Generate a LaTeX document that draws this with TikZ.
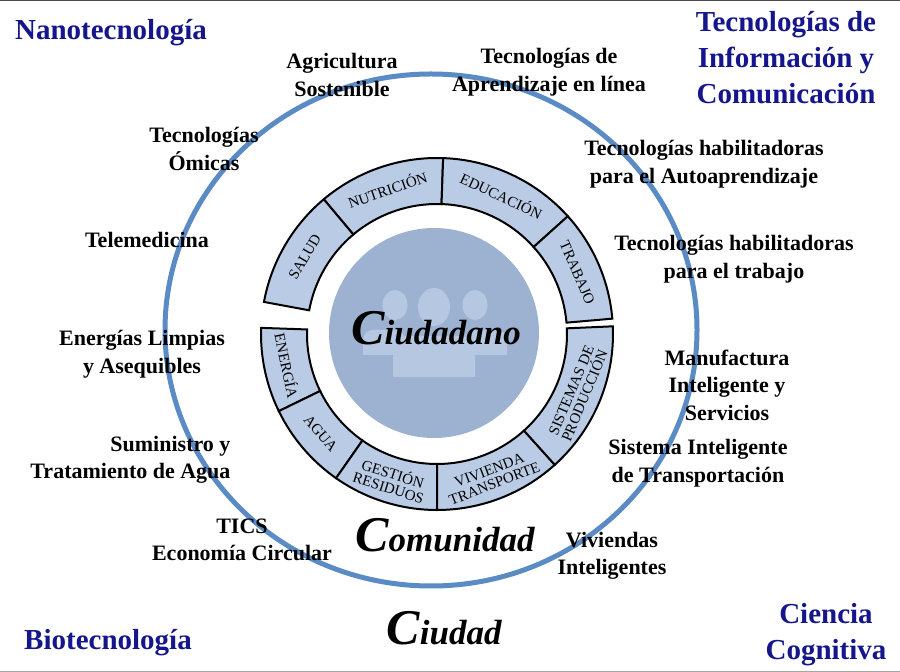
\documentclass[tikz,border=0pt]{standalone}
\usepackage{fontspec}
\setmainfont{Liberation Serif}
\usepackage{tikz}
\usetikzlibrary{calc}

\definecolor{outerblue}{HTML}{5B8BC5}
\definecolor{bandfill}{HTML}{BACCE5}
\definecolor{coreblue}{HTML}{9DB2D1}
\definecolor{iconblue}{HTML}{B6C8E1}
\definecolor{navy}{HTML}{16168C}

\tikzset{
  band/.style={draw=black, line width=2pt, fill=bandfill},
  bandtext/.style={font=\fontsize{15}{14.5}\selectfont, align=center, inner sep=0pt},
  tech/.style={font=\bfseries\fontsize{22}{27.5}\selectfont, align=center},
  area/.style={font=\bfseries\fontsize{29}{36}\selectfont, align=center, text=navy}
}

\begin{document}
\begin{tikzpicture}[x=1pt,y=1pt]
  \useasboundingbox (0,0) rectangle (900,672);
  \draw[line width=1.2pt, black!70] (0,671.4) -- (900,671.4);
  \draw[line width=1.2pt, black!35] (0,0.6) -- (900,0.6);

  \coordinate (outc) at (431,342);
  \coordinate (ringc) at (437,338);
  \coordinate (core) at (434,339);

  % ciudad
  \draw[line width=5pt, outerblue] (outc) ellipse [x radius=266, y radius=256];

  % ciudadano
  \fill[coreblue] (core) circle (105);
  \fill[iconblue] (363,317) [rounded corners=10pt] -- (363,342) -- (405,342) [sharp corners] -- (405,317) -- cycle;
  \fill[iconblue] (465,317) [rounded corners=10pt] -- (465,342) -- (507,342) [sharp corners] -- (507,317) -- cycle;
  \fill[iconblue] (393,295) [rounded corners=13pt] -- (393,336) -- (475,336) [sharp corners] -- (475,295) -- cycle;
  \fill[iconblue] (395,367) ellipse [x radius=12.5, y radius=15];
  \fill[iconblue] (475,367) ellipse [x radius=12.5, y radius=15];
  \fill[iconblue] (434,365) ellipse [x radius=16, y radius=19];
  \node (ciudadano) at (436,344) {\bfseries\itshape{\fontsize{50}{50}\selectfont C}\fontsize{35}{35}\selectfont iudadano};

  % comunidad ring, upper half
  \foreach \a/\b/\txt [count=\i] in {169.5/130/SALUD, 130/88/NUTRICIÓN, 88/42/EDUCACIÓN, 42/5/TRABAJO} {
    \draw[band, shift={(ringc)}] (\a:176) arc[start angle=\a, end angle=\b, radius=176]
      -- (\b:130) arc[start angle=\b, end angle=\a, radius=130] -- cycle;
    \pgfmathsetmacro\m{(\a+\b)/2}
    \node[bandtext, rotate=\m-90] (up\i) at ($(ringc)+(\m:153)$) {\txt};
  }
  % lower half
  \foreach \a/\b/\txt [count=\i] in {178/206/ENERGÍA, 206/235/AGUA, 235/270/{GESTIÓN\\RESIDUOS},
      270/312/{VIVIENDA\\TRANSPORTE}, 312/362.5/{SISTEMAS DE\\PRODUCCIÓN}} {
    \draw[band, shift={(ringc)}] (\a:176) arc[start angle=\a, end angle=\b, radius=176]
      -- (\b:130) arc[start angle=\b, end angle=\a, radius=130] -- cycle;
    \pgfmathsetmacro\m{(\a+\b)/2}
    \node[bandtext, rotate=\m+90] (low\i) at ($(ringc)+(\m:153)$) {\txt};
  }

  \node (comunidad) at (445,137) {\bfseries\itshape{\fontsize{50}{50}\selectfont C}\fontsize{35}{35}\selectfont omunidad};
  \node (ciudad) at (444,44) {\bfseries\itshape{\fontsize{50}{50}\selectfont C}\fontsize{35}{35}\selectfont iudad};

  % areas
  \node[area] (nano) at (111,639) {Nanotecnología};
  \node[area] (tic) at (786,614) {Tecnologías de\\Información y\\Comunicación};
  \node[area] (bio) at (108,29) {Biotecnología};
  \node[area] (cog) at (826,37) {Ciencia\\Cognitiva};

  % tecnologias
  \node[tech] (agri) at (342,597) {Agricultura\\Sostenible};
  \node[tech] (aprend) at (549,600) {Tecnologías de\\Aprendizaje en línea};
  \node[tech] (omicas) at (204,523) {Tecnologías\\Ómicas};
  \node[tech] (telemed) at (147,432) {Telemedicina};
  \node[tech] (autoap) at (704,508) {Tecnologías habilitadoras\\para el Autoaprendizaje};
  \node[tech] (habtrab) at (734,413) {Tecnologías habilitadoras\\para el trabajo};
  \node[tech] (energias) at (142,318) {Energías Limpias\\y Asequibles};
  \node[tech, align=right, anchor=east] (agua) at (234,212) {Suministro y\\Tratamiento de Agua};
  \node[tech] (tics) at (242,132) {TICS\\Economía Circular};
  \node[tech] (manuf) at (727,287) {Manufactura\\Inteligente y\\Servicios};
  \node[tech] (transp) at (698,209) {Sistema Inteligente\\de Transportación};
  \node[tech] (viviendas) at (612,116) {Viviendas\\Inteligentes};
\end{tikzpicture}
\end{document}
